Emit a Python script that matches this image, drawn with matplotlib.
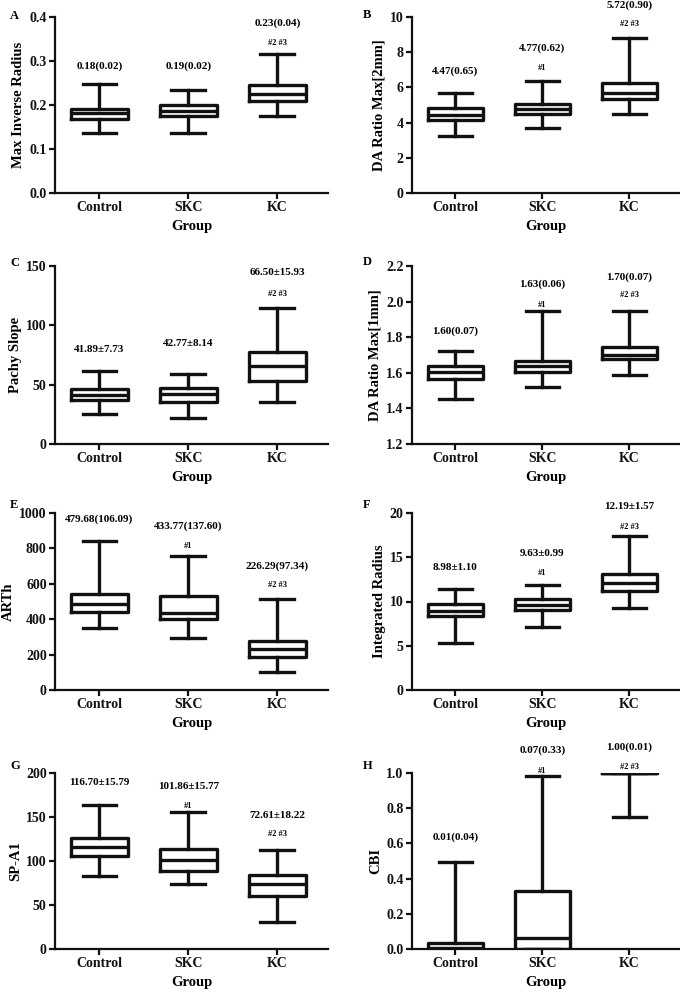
import numpy as np, matplotlib
matplotlib.use("Agg")
import matplotlib.pyplot as plt
from matplotlib.ticker import FormatStrFormatter

plt.rcParams["font.family"] = ["Liberation Serif", "DejaVu Serif"]
plt.rcParams["font.weight"] = "bold"
plt.rcParams["axes.labelweight"] = "bold"

GROUPS = ["Control", "SKC", "KC"]

# box stats: whisker low, Q1, median, Q3, whisker high
A_lo, A_q1, A_med, A_q3, A_hi = [0.136, 0.137, 0.174], [0.168, 0.176, 0.208], [0.181, 0.187, 0.226], [0.192, 0.200, 0.245], [0.247, 0.235, 0.317]
B_lo, B_q1, B_med, B_q3, B_hi = [3.26, 3.68, 4.49], [4.15, 4.47, 5.32], [4.43, 4.75, 5.66], [4.81, 5.04, 6.23], [5.70, 6.36, 8.83]
C_lo, C_q1, C_med, C_q3, C_hi = [25.5, 22.1, 35.4], [37.1, 35.4, 53.2], [41.3, 42.5, 65.4], [46.1, 47.5, 77.3], [61.7, 59.4, 114.9]
D_lo, D_q1, D_med, D_q3, D_hi = [1.453, 1.523, 1.588], [1.566, 1.603, 1.678], [1.603, 1.637, 1.701], [1.641, 1.665, 1.744], [1.725, 1.950, 1.950]
E_lo, E_q1, E_med, E_q3, E_hi = [349, 296, 104], [443, 400, 189], [485, 434, 230], [543, 532, 279], [843, 758, 513]
F_lo, F_q1, F_med, F_q3, F_hi = [5.32, 7.09, 9.25], [8.34, 9.06, 11.13], [8.98, 9.62, 12.11], [9.74, 10.23, 13.06], [11.36, 11.92, 17.36]
G_lo, G_q1, G_med, G_q3, G_hi = [83.0, 73.6, 30.2], [106.0, 88.7, 60.4], [115.5, 101.1, 74.0], [125.7, 113.2, 84.2], [164.2, 155.8, 112.5]
H_lo, H_q1, H_med, H_q3, H_hi = [0.0, 0.0, 0.75], [0.0, 0.0, 1.0], [0.005, 0.062, 1.0], [0.035, 0.332, 1.0], [0.496, 0.981, 1.0]

# summary labels and significance marks
A_txt, A_mark = ["0.18(0.02)", "0.19(0.02)", "0.23(0.04)"], ["", "", "#2 #3"]
B_txt, B_mark = ["4.47(0.65)", "4.77(0.62)", "5.72(0.90)"], ["", "#1", "#2 #3"]
C_txt, C_mark = ["41.89±7.73", "42.77±8.14", "66.50±15.93"], ["", "", "#2 #3"]
D_txt, D_mark = ["1.60(0.07)", "1.63(0.06)", "1.70(0.07)"], ["", "#1", "#2 #3"]
E_txt, E_mark = ["479.68(106.09)", "433.77(137.60)", "226.29(97.34)"], ["", "#1", "#2 #3"]
F_txt, F_mark = ["8.98±1.10", "9.63±0.99", "12.19±1.57"], ["", "#1", "#2 #3"]
G_txt, G_mark = ["116.70±15.79", "101.86±15.77", "72.61±18.22"], ["", "#1", "#2 #3"]
H_txt, H_mark = ["0.01(0.04)", "0.07(0.33)", "1.00(0.01)"], ["", "#1", "#2 #3"]

# where the labels sit (data units)
A_txt_y, A_mark_y = [0.289, 0.289, 0.385], [0, 0, 0.340]
B_txt_y, B_mark_y = [6.94, 8.21, 10.66], [0, 7.11, 9.58]
C_txt_y, C_mark_y = [79.5, 84.9, 144.3], [0, 0, 126.2]
D_txt_y, D_mark_y = [1.832, 2.097, 2.138], [0, 1.982, 2.035]
E_txt_y, E_mark_y = [966, 928, 698], [0, 815, 594]
F_txt_y, F_mark_y = [13.81, 15.40, 20.68], [0, 13.2, 18.4]
G_txt_y, G_mark_y = [188.7, 184.2, 152.1], [0, 162.3, 130.6]
H_txt_y, H_mark_y = [0.634, 1.128, 1.147], [0, 1.011, 1.034]

LW = 2.4


def draw_panel(ax, ylabel, ylim, yticks, fmt, lo, q1, med, q3, hi, txt, txt_y, mark, mark_y):
    stats = [dict(whislo=lo[i], q1=q1[i], med=med[i], q3=q3[i], whishi=hi[i], fliers=[])
             for i in range(len(GROUPS))]
    ax.bxp(stats, positions=np.arange(len(GROUPS)), widths=0.64, showfliers=False,
           boxprops=dict(linewidth=LW, color="#111111"),
           medianprops=dict(linewidth=LW, color="#111111"),
           whiskerprops=dict(linewidth=LW, color="#111111"),
           capprops=dict(linewidth=LW, color="#111111"), capwidths=0.38)
    ax.set_xlim(-0.5, 2.57)
    ax.set_ylim(*ylim)
    ax.set_yticks(yticks)
    ax.yaxis.set_major_formatter(FormatStrFormatter(fmt))
    ax.set_xticks(np.arange(len(GROUPS)))
    ax.set_xticklabels(GROUPS)
    for s in ["top", "right"]:
        ax.spines[s].set_visible(False)
    for s in ["left", "bottom"]:
        ax.spines[s].set_linewidth(1.6)
        ax.spines[s].set_color("#111111")
    ax.tick_params(axis="both", width=1.6, length=4, labelsize=10, colors="#111111", pad=2)
    ax.set_ylabel(ylabel, fontsize=10.5, labelpad=3)
    ax.set_xlabel("Group", fontsize=10.5, labelpad=4)
    for i in range(len(GROUPS)):
        ax.text(i, txt_y[i], txt[i], ha="center", va="center", fontsize=8, fontweight="bold")
        if mark[i]:
            ax.text(i, mark_y[i], mark[i], ha="center", va="center", fontsize=6, fontweight="bold")


fig = plt.figure(figsize=(6.8, 9.92), dpi=100)
W, H = 680.0, 992.0
cols = [(55, 328), (412, 679)]
rows = [(17, 193), (266, 444), (513, 690), (773, 949)]


def make_ax(r, c):
    x0, x1 = cols[c]
    y0, y1 = rows[r]
    return fig.add_axes([x0 / W, 1 - y1 / H, (x1 - x0) / W, (y1 - y0) / H])


ax = make_ax(0, 0)
draw_panel(ax, "Max Inverse Radius", (0, 0.4), [0, 0.1, 0.2, 0.3, 0.4], "%.1f",
           A_lo, A_q1, A_med, A_q3, A_hi, A_txt, A_txt_y, A_mark, A_mark_y)
ax = make_ax(0, 1)
draw_panel(ax, "DA Ratio Max[2mm]", (0, 10), [0, 2, 4, 6, 8, 10], "%d",
           B_lo, B_q1, B_med, B_q3, B_hi, B_txt, B_txt_y, B_mark, B_mark_y)
ax = make_ax(1, 0)
draw_panel(ax, "Pachy Slope", (0, 150), [0, 50, 100, 150], "%d",
           C_lo, C_q1, C_med, C_q3, C_hi, C_txt, C_txt_y, C_mark, C_mark_y)
ax = make_ax(1, 1)
draw_panel(ax, "DA Ratio Max[1mm]", (1.2, 2.2), [1.2, 1.4, 1.6, 1.8, 2.0, 2.2], "%.1f",
           D_lo, D_q1, D_med, D_q3, D_hi, D_txt, D_txt_y, D_mark, D_mark_y)
ax = make_ax(2, 0)
draw_panel(ax, "ARTh", (0, 1000), [0, 200, 400, 600, 800, 1000], "%d",
           E_lo, E_q1, E_med, E_q3, E_hi, E_txt, E_txt_y, E_mark, E_mark_y)
ax = make_ax(2, 1)
draw_panel(ax, "Integrated Radius", (0, 20), [0, 5, 10, 15, 20], "%d",
           F_lo, F_q1, F_med, F_q3, F_hi, F_txt, F_txt_y, F_mark, F_mark_y)
ax = make_ax(3, 0)
draw_panel(ax, "SP-A1", (0, 200), [0, 50, 100, 150, 200], "%d",
           G_lo, G_q1, G_med, G_q3, G_hi, G_txt, G_txt_y, G_mark, G_mark_y)
ax = make_ax(3, 1)
draw_panel(ax, "CBI", (0, 1.0), [0, 0.2, 0.4, 0.6, 0.8, 1.0], "%.1f",
           H_lo, H_q1, H_med, H_q3, H_hi, H_txt, H_txt_y, H_mark, H_mark_y)

# panel letters
letters = ["A", "B", "C", "D", "E", "F", "G", "H"]
letter_xy = [(10, 16), (363, 15), (10, 263), (363, 262), (10, 505), (363, 505), (10, 766), (363, 766)]
for lab, (lx, ly) in zip(letters, letter_xy):
    fig.text(lx / W, 1 - ly / H, lab, fontsize=9, fontweight="bold", ha="left", va="center")

fig.savefig("out.png", dpi=100)
